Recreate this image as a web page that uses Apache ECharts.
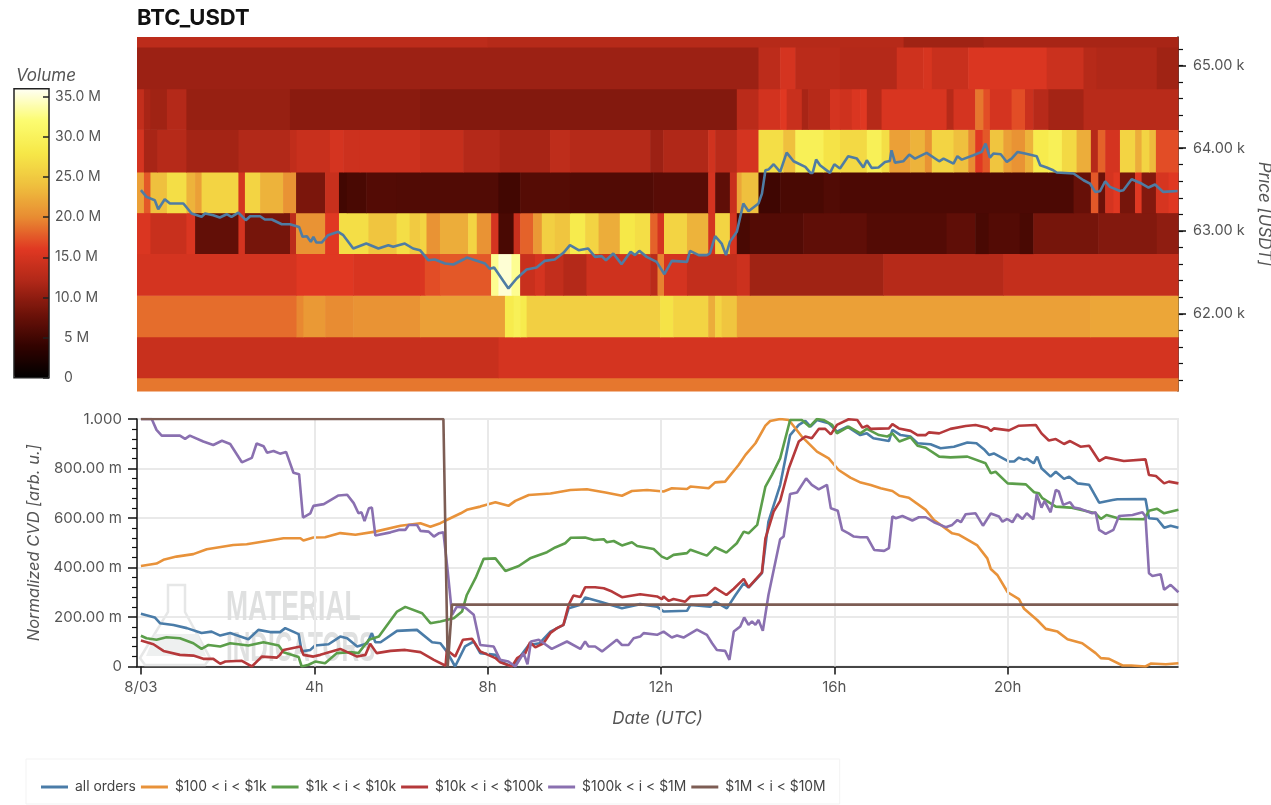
<!DOCTYPE html>
<html><head><meta charset="utf-8">
<style>html,body{margin:0;padding:0;background:#fff;overflow:hidden}#c{width:1271px;height:805px}</style>
<script src="https://cdn.jsdelivr.net/npm/echarts@6/dist/echarts.min.js"></script>
</head><body><div id="c"></div>
<script>
var xMin=-0.09, xMax=23.93;
var priceEdges=[61069,61229,61724,62226,62729,63223,63714,64228,64719,65221,65342];
// volume bands: each row is [end hour, volume in millions]
var band0=[[23.93,19]];
var band1=[[8.25,14],[23.93,15]];
var band2=[[3.59,18.5],[3.75,19.8],[4.25,21],[4.9,20],[6.44,20.5],[8.4,21.5],[8.6,28.5],[8.75,29.5],[8.9,28.5],[11.98,25.5],[12.28,27.5],[13.09,26],[13.25,22.5],[13.4,26],[13.75,24.5],[21.9,21.5],[23.93,22]];
var band3=[[3.59,15],[4.9,16],[6.44,15.3],[6.55,15.5],[6.9,17],[8.08,17.5],[8.25,33],[8.55,35],[8.75,33],[9.09,14],[9.32,15],[9.75,13.5],[10.28,12.3],[11.75,14.5],[11.92,12.8],[12.07,19.5],[12.6,15],[13.75,13.5],[14.05,14.3],[17.13,11],[19.9,12.5],[23.93,13.7]];
var band4=[[0.22,15.5],[1.05,14],[1.25,15.5],[2.25,7.2],[2.4,15],[3.44,8.5],[3.58,13],[4.25,20.5],[4.57,16],[5.25,27],[5.9,24.5],[6.2,27],[6.44,25],[6.59,26],[6.9,20.5],[7.55,22.5],[7.75,26],[8.08,20.5],[8.25,15],[8.6,5.5],[8.75,14],[9.05,18],[9.25,21],[9.55,25.5],[9.9,24.5],[10.25,28.5],[10.56,26],[11.05,22.5],[11.4,28],[11.75,27],[11.92,18],[12.07,15],[12.6,26],[13.09,23],[13.25,15],[13.59,26],[13.75,15],[14.05,5.5],[15.28,6.2],[16.75,7],[18.59,6.2],[19.25,7],[19.56,5.5],[20.28,6.2],[20.59,5.5],[22.09,8.5],[23.44,9.3],[23.93,10]];
var band5=[[0.07,21.5],[0.22,17.5],[0.6,24],[1.05,27],[1.25,23],[1.4,21.5],[2.25,26],[2.4,15],[2.75,26],[3.28,23],[3.58,20.5],[4.25,8.8],[4.57,14],[4.75,5],[5.2,5.5],[5.9,6.2],[8.25,6],[8.75,5],[9.9,6.3],[11.82,6],[13.09,6.5],[13.25,15],[13.59,7],[13.75,14],[13.86,22],[14.25,24],[14.75,4.8],[15.75,5.5],[16.13,6],[21.52,5.7],[21.92,7.5],[22.09,17.5],[22.25,7.8],[22.44,15],[22.59,16],[22.94,8.5],[23.09,16],[23.42,9.3],[23.71,15.2],[23.93,16]];
var band6=[[0.07,15],[0.38,11.5],[1.05,12.5],[2.25,11.3],[3.44,12.2],[3.59,13.3],[4.36,14],[4.67,15],[5.05,14.3],[6.44,14.3],[7.44,13.7],[8.28,12.3],[9.44,11.5],[9.9,13.2],[11.75,12.4],[12.05,10.8],[13.09,12],[13.25,14.7],[13.75,12.8],[14.25,15],[14.82,27],[15.1,24],[15.75,29.5],[16.13,27.5],[16.75,26.5],[17.09,29.5],[17.27,27],[17.75,21.5],[18.09,23],[18.25,20.5],[18.75,26],[19.09,24],[19.25,20],[19.42,16],[19.59,17.5],[19.9,24.5],[20.09,21.5],[20.4,20.5],[20.59,23],[20.94,28.5],[21.25,29.5],[21.59,26.5],[21.92,22.5],[22.08,12.5],[22.25,18],[22.59,15],[22.94,26],[23.09,22.5],[23.27,26],[23.42,23.5],[23.93,17]];
var band7=[[0.07,13.5],[0.22,11.5],[0.6,11],[1.05,12.3],[3.44,10.5],[6.44,9.7],[13.75,9.3],[14.25,12.8],[14.75,14.8],[14.9,16],[15.25,14],[15.4,11.5],[15.9,12.5],[16.13,15],[16.4,14.5],[16.6,15.5],[16.75,16],[17.09,12.5],[18.59,15.3],[18.75,12.5],[19.25,15],[19.44,19],[19.59,17],[20.09,15],[20.4,17],[20.59,14.2],[20.94,12.6],[21.75,11.3],[23.93,12.7]];
var band8=[[14.25,10.8],[14.75,13],[15.1,15],[16.13,12.8],[17.44,12.3],[18.05,14.5],[18.25,15.2],[19.09,14],[20.9,15.5],[21.75,14.2],[22.05,12.5],[23.44,12],[23.93,11]];
var band9=[[8,13],[17.6,12.5],[19.44,11],[23.93,11.5]];
var bands=[band0,band1,band2,band3,band4,band5,band6,band7,band8,band9];

var price=[[0,63493],[0.13,63412],[0.32,63372],[0.4,63263],[0.55,63384],[0.67,63332],[0.98,63332],[1.17,63211],[1.4,63171],[1.48,63211],[1.67,63191],[1.82,63163],[1.98,63203],[2.09,63171],[2.25,63223],[2.42,63131],[2.52,63179],[2.75,63179],[2.86,63139],[3.02,63139],[3.25,63082],[3.44,63082],[3.65,63050],[3.73,62930],[3.83,62938],[3.92,62869],[3.98,62930],[4.05,62861],[4.17,62861],[4.32,62950],[4.55,62990],[4.67,62950],[4.9,62789],[5.2,62849],[5.48,62789],[5.71,62829],[5.82,62809],[6.09,62849],[6.28,62789],[6.44,62769],[6.63,62648],[6.78,62656],[7.02,62608],[7.21,62596],[7.44,62656],[7.52,62680],[7.94,62608],[8.05,62544],[8.15,62560],[8.48,62307],[8.67,62427],[8.9,62536],[9.13,62560],[9.32,62640],[9.55,62656],[9.75,62737],[9.9,62829],[10.1,62769],[10.32,62789],[10.48,62688],[10.63,62697],[10.73,62648],[10.9,62729],[11.09,62600],[11.3,62749],[11.4,62709],[11.5,62761],[11.67,62688],[11.9,62628],[12.08,62479],[12.25,62640],[12.6,62628],[12.67,62761],[12.87,62709],[13.06,62709],[13.13,62729],[13.25,62938],[13.4,62849],[13.5,62709],[13.59,62869],[13.75,62990],[13.9,63332],[14.02,63239],[14.25,63332],[14.33,63452],[14.41,63734],[14.48,63742],[14.6,63806],[14.75,63714],[14.9,63947],[15.06,63842],[15.33,63774],[15.45,63702],[15.5,63702],[15.58,63862],[15.67,63794],[15.9,63702],[16,63806],[16.13,63754],[16.32,63903],[16.52,63874],[16.67,63766],[16.75,63854],[16.86,63762],[17.02,63766],[17.17,63834],[17.28,63846],[17.32,63975],[17.4,63826],[17.59,63842],[17.73,63923],[17.86,63874],[18.13,63943],[18.42,63842],[18.52,63874],[18.75,63814],[18.84,63903],[18.94,63862],[19.21,63915],[19.4,63955],[19.49,64055],[19.59,63886],[19.67,63935],[19.84,63927],[19.98,63834],[20.09,63874],[20.23,63955],[20.4,63935],[20.67,63903],[20.75,63794],[20.9,63766],[21.05,63734],[21.13,63706],[21.52,63694],[21.75,63613],[21.9,63573],[22.02,63472],[22.13,63480],[22.25,63601],[22.36,63533],[22.59,63484],[22.67,63492],[22.86,63625],[23.09,63573],[23.25,63525],[23.4,63561],[23.59,63472],[23.92,63484]];

var allOrders=[[0,213],[0.32,198],[0.44,175],[0.75,168],[1.06,155],[1.4,135],[1.63,141],[1.83,125],[2.06,135],[2.48,110],[2.71,148],[2.98,139],[3.21,139],[3.33,155],[3.64,131],[3.71,61],[3.91,67],[4.02,85],[4.33,90],[4.6,121],[4.76,114],[4.99,81],[5.22,93],[5.33,135],[5.41,98],[5.53,98],[5.91,144],[6.37,148],[6.72,98],[6.91,94],[7.06,60],[7.25,0],[7.48,81],[7.68,101],[7.83,54],[8.18,47],[8.29,20],[8.56,0],[8.75,40],[8.95,87],[9.2,94],[9.45,141],[9.75,168],[9.87,235],[10.14,249],[10.25,279],[10.6,262],[11.1,235],[11.52,252],[11.91,242],[12.06,222],[12.6,225],[12.68,249],[13.14,242],[13.25,262],[13.52,235],[13.72,289],[13.91,336],[14.02,319],[14.33,377],[14.48,585],[14.75,733],[14.98,935],[15.18,976],[15.33,992],[15.45,969],[15.6,996],[15.87,983],[16.06,949],[16.3,969],[16.6,935],[16.75,942],[16.9,922],[17.26,911],[17.34,956],[17.53,935],[17.76,929],[17.92,902],[18.22,898],[18.45,882],[18.76,888],[19.07,905],[19.28,902],[19.45,878],[19.57,855],[19.68,861],[20.03,828],[20.15,828],[20.26,844],[20.38,835],[20.45,839],[20.6,821],[20.68,848],[20.78,801],[20.99,767],[21.11,787],[21.3,758],[21.42,767],[21.61,740],[21.88,734],[22.11,662],[22.42,673],[22.53,676],[23.18,677],[23.26,599],[23.45,596],[23.61,561],[23.76,569],[23.94,561]];
var i100to1k=[[0,406],[0.36,416],[0.52,431],[0.82,444],[1.21,454],[1.52,474],[2.13,491],[2.44,494],[2.83,505],[3.29,518],[3.68,518],[3.75,509],[3.98,521],[4.25,522],[4.6,539],[4.95,532],[5.41,545],[5.99,569],[6.45,579],[6.68,565],[6.91,579],[7.14,599],[7.38,619],[7.52,633],[7.83,646],[8.18,664],[8.48,649],[8.64,669],[8.95,693],[9.45,699],[9.91,713],[10.29,716],[10.72,703],[11.1,690],[11.33,709],[11.68,713],[12.06,707],[12.25,720],[12.6,717],[12.68,727],[13.1,720],[13.25,744],[13.48,747],[13.79,814],[13.95,855],[14.18,902],[14.41,973],[14.52,992],[14.75,1000],[14.95,996],[15.25,929],[15.6,868],[15.87,841],[16.1,794],[16.37,763],[16.61,743],[16.84,733],[17.07,720],[17.34,709],[17.5,690],[17.72,682],[18.11,633],[18.3,592],[18.72,538],[18.88,532],[19.3,489],[19.53,437],[19.61,394],[19.76,370],[20,300],[20.26,272],[20.38,233],[20.68,188],[20.88,152],[21.15,141],[21.38,110],[21.72,94],[22.03,54],[22.15,34],[22.34,31],[22.65,4],[22.85,4],[23.18,0],[23.3,12],[23.65,9],[23.94,13]];
var i1kto10k=[[0,124],[0.13,114],[0.36,108],[0.59,118],[0.9,114],[1.21,94],[1.4,71],[1.56,87],[1.83,81],[2.06,94],[2.48,85],[2.83,98],[3.18,85],[3.29,58],[3.64,38],[3.71,0],[3.87,7],[4.02,20],[4.25,13],[4.52,54],[4.83,58],[5.02,54],[5.26,108],[5.49,121],[5.91,222],[6.1,241],[6.49,215],[6.68,175],[6.91,182],[7.22,195],[7.41,222],[7.52,289],[7.72,357],[7.91,435],[8.18,437],[8.41,386],[8.72,406],[8.98,437],[9.37,462],[9.56,481],[9.79,498],[9.92,520],[10.25,521],[10.45,511],[10.68,514],[10.75,502],[10.91,507],[11.1,489],[11.33,502],[11.45,487],[11.83,475],[12.02,444],[12.14,435],[12.29,451],[12.6,458],[12.68,472],[13.06,448],[13.25,482],[13.51,460],[13.75,498],[13.91,545],[14.02,538],[14.22,572],[14.41,727],[14.56,774],[14.75,841],[14.98,996],[15.25,996],[15.43,969],[15.6,1000],[15.75,996],[15.95,976],[16.06,942],[16.33,969],[16.6,942],[16.75,960],[17.03,935],[17.22,929],[17.34,942],[17.5,909],[17.76,926],[17.92,892],[18.11,884],[18.42,848],[18.68,845],[19.07,848],[19.49,821],[19.61,781],[19.72,787],[20,740],[20.42,736],[20.61,704],[20.72,700],[20.8,680],[21.11,646],[21.45,642],[22.03,619],[22.15,596],[22.28,612],[22.61,596],[23.15,595],[23.26,629],[23.45,637],[23.61,619],[23.94,633]];
var i10kto100k=[[0,105],[0.29,90],[0.52,63],[0.9,47],[1.21,44],[1.44,31],[1.67,31],[1.83,11],[1.95,20],[2.33,23],[2.56,0],[2.79,40],[3.14,36],[3.21,47],[3.29,67],[3.68,81],[3.75,47],[3.98,40],[4.14,47],[4.6,71],[4.99,40],[5.18,47],[5.29,92],[5.44,54],[5.76,63],[6.1,67],[6.45,58],[6.76,27],[7.03,3],[7.06,67],[7.25,40],[7.43,108],[7.64,112],[7.83,61],[8.18,34],[8.29,17],[8.56,0],[8.68,34],[8.87,54],[8.98,98],[9.1,77],[9.29,94],[9.45,135],[9.6,155],[9.75,168],[9.87,249],[9.98,287],[10.14,281],[10.25,320],[10.48,320],[10.68,316],[10.87,303],[11.1,280],[11.52,292],[11.91,283],[12.02,272],[12.06,283],[12.18,265],[12.29,273],[12.56,262],[12.68,283],[13.06,289],[13.25,318],[13.51,289],[13.68,314],[13.91,354],[14.02,320],[14.33,380],[14.41,518],[14.6,626],[14.75,669],[14.95,801],[15.18,909],[15.33,929],[15.48,922],[15.64,960],[15.79,960],[15.92,938],[16.06,976],[16.33,999],[16.53,996],[16.65,965],[16.76,973],[16.84,960],[17.26,962],[17.34,979],[17.49,962],[17.76,952],[17.92,935],[18.11,935],[18.18,946],[18.42,942],[18.68,960],[19.03,972],[19.26,976],[19.53,965],[19.61,952],[19.68,962],[20.03,954],[20.26,973],[20.65,976],[20.78,942],[20.95,913],[21.11,919],[21.3,899],[21.44,911],[21.68,888],[21.88,892],[22.11,830],[22.26,845],[22.68,830],[23.18,837],[23.26,774],[23.42,770],[23.61,740],[23.72,747],[23.94,740]];
var i100kto1M=[[0,1000],[0.25,1000],[0.36,956],[0.48,933],[0.9,933],[1.02,920],[1.13,933],[1.44,909],[1.67,895],[1.87,912],[2.06,899],[2.33,825],[2.56,843],[2.67,901],[2.83,890],[2.91,864],[3.06,871],[3.21,860],[3.35,867],[3.52,783],[3.65,777],[3.74,602],[3.91,619],[3.98,649],[4.22,656],[4.56,691],[4.76,694],[4.91,660],[5.02,619],[5.09,623],[5.16,588],[5.26,639],[5.33,642],[5.41,529],[5.76,542],[5.95,552],[6.1,552],[6.18,572],[6.37,572],[6.45,548],[6.64,545],[6.76,525],[6.87,538],[6.98,542],[7.08,384],[7.18,209],[7.29,242],[7.48,238],[7.68,209],[7.83,87],[8.14,81],[8.29,27],[8.48,20],[8.64,0],[8.83,54],[8.92,9],[9,101],[9.18,108],[9.48,71],[9.83,101],[10.14,71],[10.25,101],[10.33,81],[10.48,81],[10.64,61],[10.98,108],[11.1,87],[11.25,87],[11.37,114],[11.52,121],[11.6,135],[11.91,128],[12.06,141],[12.25,117],[12.37,125],[12.52,117],[12.83,149],[13.06,128],[13.18,94],[13.29,67],[13.48,63],[13.58,27],[13.68,141],[13.83,162],[13.92,198],[14.02,168],[14.1,182],[14.18,168],[14.25,188],[14.35,144],[14.48,289],[14.75,514],[14.83,525],[14.98,697],[15.14,703],[15.35,760],[15.48,734],[15.64,716],[15.83,734],[15.92,639],[16.08,629],[16.18,552],[16.33,538],[16.45,525],[16.6,522],[16.76,522],[16.92,471],[17.15,467],[17.26,478],[17.34,606],[17.42,599],[17.57,608],[17.8,590],[17.95,603],[18.11,603],[18.3,583],[18.57,563],[18.72,572],[18.84,592],[18.92,583],[19.03,615],[19.26,619],[19.43,569],[19.61,618],[19.8,606],[19.88,585],[19.99,596],[20.11,583],[20.22,615],[20.34,596],[20.44,619],[20.59,595],[20.67,696],[20.78,642],[20.85,669],[20.99,623],[21.03,619],[21.11,713],[21.18,707],[21.28,653],[21.44,664],[21.53,642],[21.68,637],[21.95,619],[22.03,623],[22.11,552],[22.26,536],[22.44,552],[22.57,608],[22.88,612],[23.11,623],[23.18,606],[23.26,377],[23.34,366],[23.53,373],[23.61,310],[23.76,330],[23.94,300]];
var i1Mto10M=[[0,1000],[6.98,1000],[7.08,0],[7.18,250],[23.94,250]];

var lineNames=['all orders','$100 < i < $1k','$1k < i < $10k','$10k < i < $100k','$100k < i < $1M','$1M < i < $10M'];
var lineColors=['#4a7ca8','#e8923a','#5b9e4a','#b5393b','#8a70b0','#7d5d54'];
var lineData=[allOrders,i100to1k,i1kto10k,i10kto100k,i100kto1M,i1Mto10M];
var volumeTicks=[0,5,10,15,20,25,30,35];
var hotColors=['#000000','#330300','#6e1209','#b02818','#e03822','#e88c32','#efc03e','#f6e848','#fcfc70','#fffff5'];
var priceTicks=[62000,63000,64000,65000];
var priceMinorTicks=[61200,61400,61600,61800,62000,62200,62400,62600,62800,63000,63200,63400,63600,63800,64000,64200,64400,64600,64800,65000,65200];
var hourTicks=[0,4,8,12,16,20];

var cells=[];
bands.forEach(function(b,r){var s=xMin;b.forEach(function(seg){cells.push([s,seg[0],priceEdges[r],priceEdges[r+1],seg[1]]);s=seg[0];});});

var txt='#555', font='Inter';
function renderCell(p,api){
  var a=api.coord([api.value(0),api.value(3)]),b=api.coord([api.value(1),api.value(2)]);
  return {type:'rect',shape:{x:a[0],y:a[1],width:b[0]-a[0]+0.6,height:b[1]-a[1]+0.6},style:{fill:api.visual('color')}};
}
function volLabel(v){return v===0?'\u20070':v===5?'\u20075 M':v.toFixed(1)+' M';}
function cvdLabel(v){return v===0?'0':v===1000?'1.000':v.toFixed(2)+' m';}

var series=[
 {type:'custom',name:'Volume',xAxisIndex:0,yAxisIndex:0,renderItem:renderCell,data:cells,encode:{x:[0,1],y:[2,3]},z:1,silent:true},
 {type:'line',name:'Price',xAxisIndex:0,yAxisIndex:0,data:price,symbol:'none',z:3,lineStyle:{color:'#4f7ca3',width:2.6},silent:true},
 {type:'line',name:'grid',xAxisIndex:1,yAxisIndex:2,data:[],z:1,silent:true,markLine:{silent:true,symbol:'none',label:{show:false},lineStyle:{color:'#e9e9e9',width:2,type:'solid'},data:hourTicks.slice(1).map(function(h){return {xAxis:h};})}}
];
lineNames.forEach(function(n,i){series.push({type:'line',name:n,xAxisIndex:1,yAxisIndex:2,data:lineData[i],symbol:'none',z:3+i,itemStyle:{color:lineColors[i]},lineStyle:{color:lineColors[i],width:2.6}});});

var grey='#e6e7e7';
var chart=echarts.init(document.getElementById('c'),null,{renderer:'canvas',width:1271,height:805});
chart.setOption({
 animation:false,backgroundColor:'#fff',textStyle:{fontFamily:font},
 title:{text:'BTC_USDT',left:137,top:7,padding:0,textStyle:{fontFamily:font,fontSize:22,fontWeight:'bold',color:'#111'}},
 grid:[
  {left:137,width:1041,top:37,height:354,show:false,outerBoundsMode:'none'},
  {left:137,width:1041,top:419,height:247.5,show:true,backgroundColor:'#fff',borderColor:'#e9e9e9',borderWidth:2,outerBoundsMode:'none'},
  {left:14,width:35,top:88.7,height:289,show:true,backgroundColor:'transparent',borderColor:'#222',borderWidth:1.5,z:6,outerBoundsMode:'none'}
 ],
 xAxis:[
  {type:'value',gridIndex:0,min:xMin,max:xMax,show:false,splitLine:{show:false}},
  {type:'value',gridIndex:1,min:xMin,max:xMax,name:'Date (UTC)',nameLocation:'middle',nameGap:44,nameTextStyle:{fontStyle:'italic',fontSize:17,color:txt,fontFamily:font},
   axisLine:{show:true,onZero:false,lineStyle:{color:'#111',width:1.5}},splitLine:{show:false},
   axisTick:{show:true,length:8,customValues:hourTicks,lineStyle:{color:'#111',width:1.5}},
   axisLabel:{customValues:hourTicks,margin:13,fontSize:15,color:txt,fontFamily:font,formatter:function(v){return v===0?'8/03':v+'h';}}},
  {type:'value',gridIndex:2,min:0,max:1,show:false,splitLine:{show:false}}
 ],
 yAxis:[
  {type:'value',gridIndex:0,position:'right',min:priceEdges[0],max:priceEdges[10],name:'Price [USDT]',nameLocation:'middle',nameGap:76,nameRotate:-90,nameTextStyle:{fontStyle:'italic',fontSize:17,color:txt,fontFamily:font},
   axisLine:{show:true,onZero:false,lineStyle:{color:'#111',width:1.5}},splitLine:{show:false},
   axisTick:{show:true,length:8,customValues:priceTicks,lineStyle:{color:'#111',width:1.5}},
   axisLabel:{customValues:priceTicks,margin:15,fontSize:14.5,color:txt,fontFamily:font,formatter:function(v){return (v/1000).toFixed(2)+' k';}}},
  {type:'value',gridIndex:0,position:'right',min:priceEdges[0],max:priceEdges[10],
   axisLine:{show:false,onZero:false},splitLine:{show:false},
   axisTick:{show:true,length:5,customValues:priceMinorTicks,lineStyle:{color:'#111',width:1.2}},
   axisLabel:{show:false}},
  {type:'value',gridIndex:1,min:0,max:1000,interval:200,name:'Normalized CVD [arb. u.]',nameLocation:'middle',nameGap:90,nameRotate:90,nameTextStyle:{fontStyle:'italic',fontSize:16.5,color:txt,fontFamily:font},
   axisLine:{show:true,onZero:false,lineStyle:{color:'#111',width:1.5}},splitLine:{show:true,lineStyle:{color:'#e9e9e9',width:2}},
   axisTick:{show:true,length:9,lineStyle:{color:'#111',width:1.5}},minorTick:{show:true,splitNumber:5,length:5,lineStyle:{color:'#111',width:1.2}},
   axisLabel:{margin:15,fontSize:15,color:txt,fontFamily:font,formatter:cvdLabel}},
  {type:'value',gridIndex:2,position:'right',min:0,max:36,z:8,
   axisLine:{show:false,onZero:false},splitLine:{show:false},
   axisTick:{show:true,inside:true,length:6,customValues:volumeTicks,lineStyle:{color:'#222',width:1.5}},
   axisLabel:{customValues:volumeTicks,inside:false,margin:6,fontSize:14,color:txt,fontFamily:font,formatter:volLabel}}
 ],
 visualMap:{type:'continuous',min:0,max:36,dimension:4,seriesIndex:0,left:14,top:88.7,itemWidth:35,itemHeight:289,padding:0,calculable:false,hoverLink:false,text:null,inRange:{color:hotColors},z:4},
 legend:{data:lineNames,left:26,top:759,padding:[21,14,10,15],icon:'rect',itemWidth:27,itemHeight:3,itemGap:5,borderColor:'#f3f3f3',borderWidth:1,selectedMode:false,
  textStyle:{fontFamily:font,fontSize:13.9,color:'#444',padding:[0,0,0,2]}},
 graphic:[
  {type:'text',z:1,x:16,y:67,style:{text:'Volume',fontFamily:font,fontStyle:'italic',fontSize:17,fill:txt}},
  {type:'polygon',z:1,shape:{points:[[168,585],[185,585],[185,612],[210,658],[205,665],[145,665],[140,658],[168,612]]},style:{fill:'transparent',stroke:grey,lineWidth:2.5}},
  {type:'polygon',z:1,shape:{points:[[155,634],[198,634],[206,656],[146,656]]},style:{fill:'#eef0f0'}},
  {type:'text',z:1,x:226,y:587,scaleX:0.63,style:{text:'MATERIAL',fontFamily:'Liberation Sans',fontWeight:'bold',fontSize:42,fill:'#dfe0e0'}},
  {type:'text',z:1,x:226,y:628,scaleX:0.58,style:{text:'INDICATORS',fontFamily:'Liberation Sans',fontWeight:'bold',fontSize:42,fill:'#dfe0e0'}}
 ],
 series:series
});
</script></body></html>
